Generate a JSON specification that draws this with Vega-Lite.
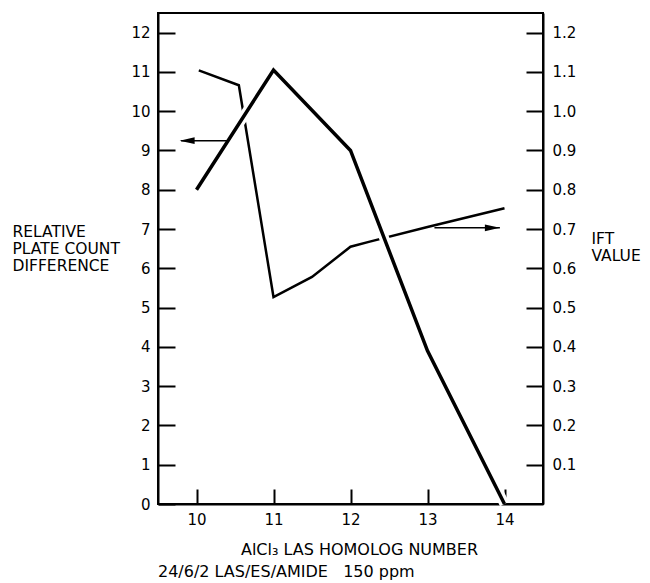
{
  "$schema": "https://vega.github.io/schema/vega-lite/v6.json",
  "width": 385,
  "height": 491,
  "autosize": "none",
  "padding": {"left": 158, "top": 13, "right": 107, "bottom": 79},
  "background": "white",
  "config": {
    "font": "DejaVu Sans",
    "view": {"stroke": "black", "strokeWidth": 2},
    "axis": {
      "grid": false,
      "domainColor": "black",
      "domainWidth": 2,
      "tickColor": "black",
      "tickWidth": 2,
      "labelColor": "black",
      "labelFont": "DejaVu Sans",
      "labelFontSize": 15,
      "titleColor": "black",
      "titleFont": "DejaVu Sans",
      "titleFontSize": 15.5,
      "titleFontWeight": "normal",
      "zindex": 1
    }
  },
  "title": {
    "text": "24/6/2 LAS/ES/AMIDE\u00a0\u00a0\u00a0150 ppm",
    "orient": "bottom",
    "anchor": "start",
    "frame": "group",
    "offset": 7,
    "font": "DejaVu Sans",
    "fontSize": 16,
    "fontWeight": "normal",
    "color": "black"
  },
  "datasets": {
    "plate": [
      {"homolog": 10, "diff": 8},
      {"homolog": 11, "diff": 11.05},
      {"homolog": 12, "diff": 9},
      {"homolog": 13, "diff": 3.9},
      {"homolog": 14, "diff": 0}
    ],
    "ift": [
      {"homolog": 10.03, "ift": 1.104},
      {"homolog": 10.55, "ift": 1.066},
      {"homolog": 11, "ift": 0.527},
      {"homolog": 11.5, "ift": 0.578},
      {"homolog": 12, "ift": 0.655},
      {"homolog": 12.25, "ift": 0.668},
      {"homolog": 13, "ift": 0.705},
      {"homolog": 14, "ift": 0.753}
    ],
    "arrowLeft": [{"from": 9.8, "to": 10.4, "level": 9.25}],
    "arrowRight": [{"from": 13.09, "to": 13.94, "level": 0.703}]
  },
  "resolve": {"scale": {"y": "independent"}, "axis": {"y": "independent"}},
  "layer": [
    {
      "layer": [
        {
          "data": {"name": "ift"},
          "mark": {"type": "line", "stroke": "black", "strokeWidth": 2.5, "strokeJoin": "miter"},
          "encoding": {
            "x": {
              "field": "homolog",
              "type": "quantitative",
              "scale": {"domain": [9.5, 14.5], "nice": false, "zero": false},
              "axis": {
                "orient": "bottom",
                "values": [10, 11, 12, 13, 14],
                "format": "d",
                "tickSize": -15,
                "labelPadding": 23,
                "title": "AlCl₃ LAS HOMOLOG NUMBER",
                "titleFontSize": 16,
                "titleAnchor": "start",
                "titleAlign": "center",
                "titleX": 201,
                "titleY": 50,
                "titleBaseline": "alphabetic"
              }
            },
            "y": {
              "field": "ift",
              "type": "quantitative",
              "scale": {"domain": [0, 1.25], "nice": false},
              "axis": {
                "orient": "right",
                "values": [0.1, 0.2, 0.3, 0.4, 0.5, 0.6, 0.7, 0.8, 0.9, 1.0, 1.1, 1.2],
                "format": ".1f",
                "tickSize": -17,
                "labelPadding": 26,
                "title": ["IFT", "VALUE"],
                "titleAngle": 0,
                "titleAlign": "left",
                "titleBaseline": "alphabetic",
                "titleX": 48,
                "titleY": 230,
                "titleLineHeight": 17
              }
            }
          }
        },
        {
          "data": {"name": "arrowRight"},
          "mark": {"type": "rule", "stroke": "black", "strokeWidth": 1.5},
          "encoding": {
            "x": {"field": "from", "type": "quantitative"},
            "x2": {"field": "to"},
            "y": {"field": "level", "type": "quantitative"}
          }
        },
        {
          "data": {"name": "arrowRight"},
          "mark": {"type": "point", "shape": "M1,0 L-1,-0.45 L-1,0.45 Z", "filled": true, "size": 225, "xOffset": -7.5, "color": "black", "opacity": 1},
          "encoding": {
            "x": {"field": "to", "type": "quantitative"},
            "y": {"field": "level", "type": "quantitative"}
          }
        }
      ]
    },
    {
      "layer": [
        {
          "data": {"name": "plate"},
          "mark": {"type": "line", "stroke": "white", "strokeWidth": 10, "strokeCap": "butt"},
          "encoding": {
            "x": {"field": "homolog", "type": "quantitative"},
            "y": {
              "field": "diff",
              "type": "quantitative",
              "scale": {"domain": [0, 12.5], "nice": false},
              "axis": {
                "orient": "left",
                "values": [0, 1, 2, 3, 4, 5, 6, 7, 8, 9, 10, 11, 12],
                "format": "d",
                "tickSize": -17,
                "labelPadding": 25,
                "title": ["RELATIVE", "PLATE COUNT", "DIFFERENCE"],
                "titleAngle": 0,
                "titleAlign": "left",
                "titleBaseline": "alphabetic",
                "titleX": -146,
                "titleY": 223,
                "titleLineHeight": 17
              }
            }
          }
        },
        {
          "data": {"name": "plate"},
          "mark": {"type": "line", "stroke": "black", "strokeWidth": 3.5, "strokeJoin": "miter"},
          "encoding": {
            "x": {"field": "homolog", "type": "quantitative"},
            "y": {"field": "diff", "type": "quantitative"}
          }
        },
        {
          "data": {"name": "arrowLeft"},
          "mark": {"type": "rule", "stroke": "black", "strokeWidth": 1.5},
          "encoding": {
            "x": {"field": "from", "type": "quantitative"},
            "x2": {"field": "to"},
            "y": {"field": "level", "type": "quantitative"}
          }
        },
        {
          "data": {"name": "arrowLeft"},
          "mark": {"type": "point", "shape": "M-1,0 L1,-0.45 L1,0.45 Z", "filled": true, "size": 225, "xOffset": 6, "color": "black", "opacity": 1},
          "encoding": {
            "x": {"field": "from", "type": "quantitative"},
            "y": {"field": "level", "type": "quantitative"}
          }
        }
      ]
    }
  ]
}
